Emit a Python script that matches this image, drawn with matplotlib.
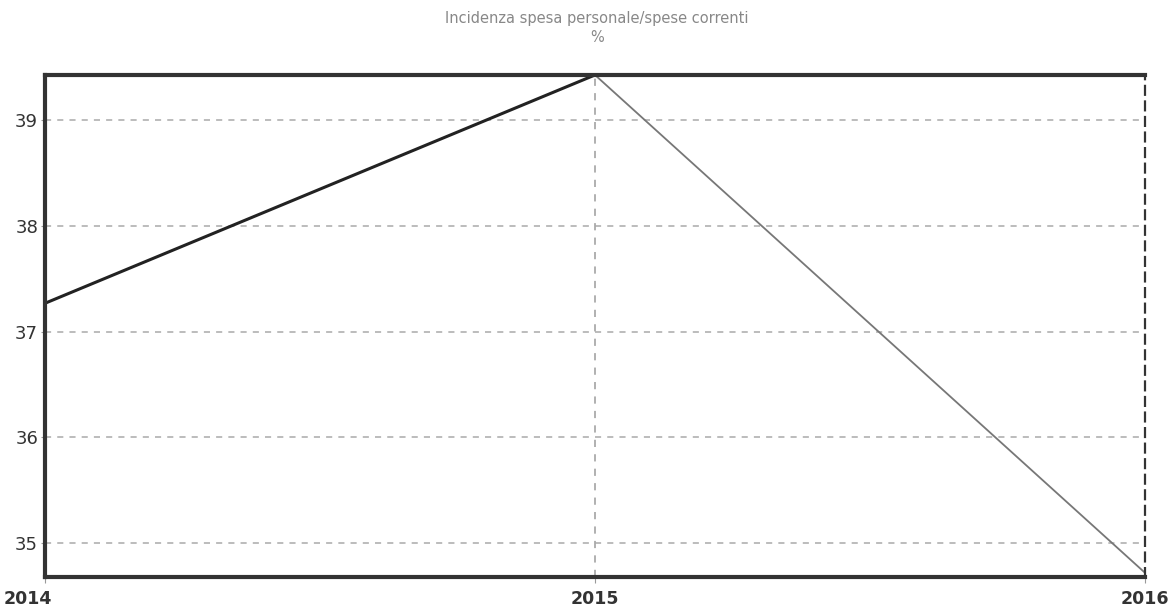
import matplotlib.pyplot as plt

years = [2014, 2015, 2016]
incidenza = [37.27, 39.43, 34.72]
y_ticks = [35, 36, 37, 38, 39]
x_labels = ["2014", "2015", "2016"]

fig = plt.figure(figsize=(11.7, 6.12), dpi=100)
ax = fig.add_axes([0.0385, 0.0572, 0.9401, 0.8203])

# first segment dark and thick, second one thinner and grey
ax.plot(years[:2], incidenza[:2], color="#222222", lw=2.2, solid_capstyle="round")
ax.plot(years[1:], incidenza[1:], color="#777777", lw=1.3)

ax.set_xlim(2014, 2016)
ax.set_ylim(34.68, 39.43)
ax.set_yticks(y_ticks)
ax.set_yticklabels([str(v) for v in y_ticks], fontsize=13, color="#333333")
ax.set_xticks(years)
ax.set_xticklabels([])
ax.tick_params(axis="y", length=3, color="#999999", pad=2)
ax.tick_params(axis="x", length=4, color="#999999")

for v in y_ticks:
    ax.axhline(v, color="#aaaaaa", lw=1.1, ls=(0, (4, 4)), zorder=0)
ax.axvline(2015, color="#aaaaaa", lw=1.3, ls=(0, (4, 4)), zorder=0)

for side in ["left", "top", "bottom"]:
    ax.spines[side].set_color("#333333")
    ax.spines[side].set_linewidth(3)
ax.spines["right"].set_color("#333333")
ax.spines["right"].set_linewidth(1.6)
ax.spines["right"].set_linestyle((0, (4, 3)))

# year labels below the axis
xt = ax.get_xaxis_transform()
fig.text(0.003, 0.0572 - 0.025 * 0.8203, x_labels[0], ha="left", va="top",
         fontsize=12.5, color="#333333", fontweight="bold")
ax.text(2015, -0.025, x_labels[1], transform=xt, ha="center", va="top",
        fontsize=12.5, color="#333333", fontweight="bold")
ax.text(2016, -0.025, x_labels[2], transform=xt, ha="center", va="top",
        fontsize=12.5, color="#333333", fontweight="bold")

fig.text(0.51, 0.97, "Incidenza spesa personale/spese correnti", ha="center", va="center",
         fontsize=10.5, color="#888888")
fig.text(0.51, 0.938, "%", ha="center", va="center", fontsize=10.5, color="#888888")

fig.savefig("out.png", dpi=100)
